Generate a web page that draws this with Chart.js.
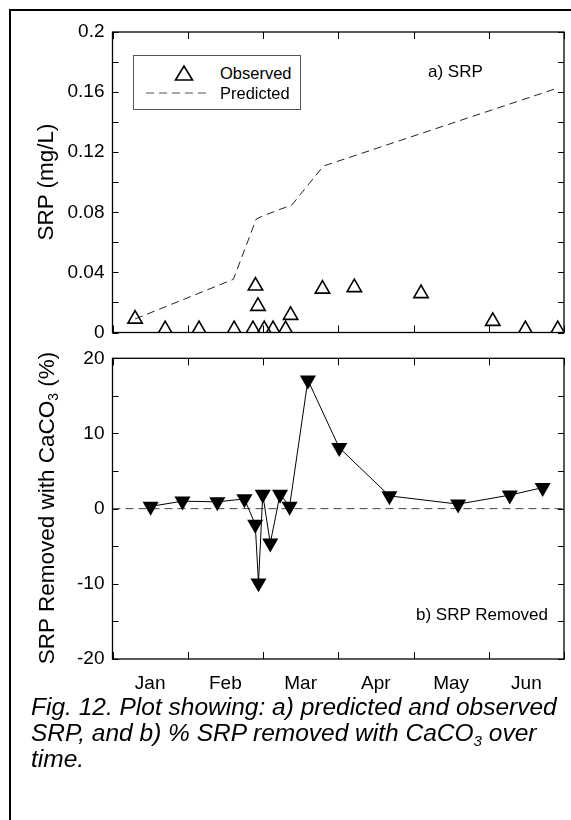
<!DOCTYPE html>
<html>
<head>
<meta charset="utf-8">
<script src="https://cdn.jsdelivr.net/npm/chart.js@4.4.1/dist/chart.umd.min.js"></script>
<style>
  html, body { margin: 0; padding: 0; background: #fff; }
  body { width: 571px; height: 820px; position: relative; overflow: hidden;
         font-family: "Liberation Sans", Arial, Helvetica, sans-serif; color: #000; }
  #frame { position: absolute; left: 9px; top: 9px; width: 700px; height: 900px;
           border-left: 2px solid #000; border-top: 2px solid #000; }
  canvas { position: absolute; left: 0; }
  #topChart { top: 0; }
  #botChart { top: 338px; }
  .ytitle { position: absolute; transform: translate(-50%, -50%) rotate(-90deg);
            white-space: nowrap; font-size: 22.5px; line-height: 1; }
  sub { font-size: 62%; vertical-align: baseline; position: relative; top: 0.3em; line-height: 0; }
  .note { position: absolute; white-space: nowrap; font-size: 17px; line-height: 20px; }
  #legend { position: absolute; left: 133px; top: 55px; width: 166px; height: 53px;
            border: 1px solid #555; background: #fff; }
  #legend svg { position: absolute; left: 0; top: 0; }
  #legend .lab { position: absolute; left: 86px; font-size: 16.5px; line-height: 20px; }
  #caption { position: absolute; left: 31px; top: 694px; font-size: 24.5px; line-height: 26px;
             font-style: italic; white-space: nowrap; }
</style>
</head>
<body>
<div id="frame"></div>
<canvas id="topChart" width="571" height="352"></canvas>
<canvas id="botChart" width="577" height="370"></canvas>

<div class="ytitle" style="left:46px; top:182px;">SRP (mg/L)</div>
<div class="ytitle" style="left:47px; top:508px;">SRP Removed with CaCO<sub>3</sub> (%)</div>

<div id="legend">
  <svg width="166" height="53">
    <polygon points="50,10 41.5,24 58.5,24" fill="none" stroke="#000" stroke-width="1.6"/>
    <line x1="12" y1="37" x2="77" y2="37" stroke="#555" stroke-width="1" stroke-dasharray="8,5"/>
  </svg>
  <div class="lab" style="top:7px;">Observed</div>
  <div class="lab" style="top:27px;">Predicted</div>
</div>

<div class="note" style="left:428px; top:62px;">a) SRP</div>
<div class="note" style="right:23px; top:605px;">b) SRP Removed</div>

<div id="caption">Fig. 12. Plot showing: a) predicted and observed<br>SRP, and b) % SRP removed with CaCO<sub>3</sub> over<br>time.</div>

<script>
// Time axis: days from 1 Jan, six 30-day month bands
const monthNames = ['Jan', 'Feb', 'Mar', 'Apr', 'May', 'Jun'];
const monthEdges = [0, 30, 60, 90, 120, 150, 180];

// a) observed SRP (mg/L)
const obsDay = [9, 21, 34.5, 48.5, 56, 57, 58, 60.5, 64, 69, 71, 83.7, 96.4, 123, 151.6, 164.6, 177.5];
const obsSRP = [0.009, 0.002, 0.002, 0.002, 0.002, 0.031, 0.0175, 0.002, 0.002, 0.002, 0.0115, 0.029, 0.030, 0.026, 0.0075, 0.002, 0.002];

// a) predicted SRP (mg/L)
const predDay = [9, 48.2, 57.3, 60.2, 71.5, 84.1, 177.3];
const predSRP = [0.009, 0.0354, 0.0755, 0.0778, 0.0849, 0.1108, 0.1626];

// b) SRP removed with CaCO3 (%)
const remDay = [15.2, 27.9, 41.8, 52.6, 56.9, 58.2, 59.9, 62.9, 66.8, 70.6, 77.9, 90.4, 110.4, 137.8, 158.4, 171.5];
const remPct = [0.3, 1.0, 0.9, 1.3, -2.1, -9.9, 1.9, -4.6, 1.9, 0.3, 17.1, 8.1, 1.7, 0.6, 1.8, 2.8];

// y tick labels
const srpLabels = [0, 0.04, 0.08, 0.12, 0.16, 0.2];
const pctLabels = [-20, -10, 0, 10, 20];

const pts = (xs, ys) => xs.map((x, i) => ({ x, y: ys[i] }));
const FONT = '"Liberation Sans", Arial, Helvetica, sans-serif';

// Closed frame with inward-pointing ticks on all four sides
const frameTicks = {
  id: 'frameTicks',
  afterDraw(chart) {
    const { ctx, chartArea: a, scales: { x, y } } = chart;
    const len = 6;
    ctx.save();
    ctx.strokeStyle = '#000';
    ctx.lineWidth = 1;
    ctx.beginPath();
    y.ticks.forEach(t => {
      const py = Math.round(y.getPixelForValue(t.value)) + 0.5;
      ctx.moveTo(a.left, py); ctx.lineTo(a.left + len, py);
      ctx.moveTo(a.right, py); ctx.lineTo(a.right - len, py);
    });
    monthEdges.forEach(v => {
      const px = Math.round(x.getPixelForValue(v)) + 0.5;
      ctx.moveTo(px, a.top); ctx.lineTo(px, a.top + len + 1);
      ctx.moveTo(px, a.bottom); ctx.lineTo(px, a.bottom - len - 1);
    });
    ctx.stroke();
    ctx.lineWidth = 1.3;
    ctx.strokeRect(a.left, a.top, a.right - a.left, a.bottom - a.top);
    ctx.restore();
  }
};

function xScale(showLabels, height) {
  return {
    type: 'linear', min: 0, max: 180,
    grid: { display: false, drawTicks: false },
    border: { display: false },
    ticks: {
      display: showLabels, stepSize: 15, autoSkip: false, maxRotation: 0, padding: 13,
      color: '#000', font: { family: FONT, size: 19 },
      callback: v => (v % 30 === 15 ? monthNames[(v - 15) / 30] : '')
    },
    afterFit: s => { s.height = height; }
  };
}

function yScale(min, max, step, labels, fmt) {
  return {
    type: 'linear', min, max,
    grid: { display: false, drawTicks: false },
    border: { display: false },
    ticks: {
      stepSize: step, autoSkip: false, padding: 8, color: '#000',
      font: { family: FONT, size: 19 },
      callback: v => {
        const hit = labels.find(l => Math.abs(l - v) < 1e-9);
        return hit === undefined ? '' : fmt(hit);
      }
    },
    afterFit: s => { s.width = 82; }
  };
}

const common = {
  responsive: false,
  animation: false,
  devicePixelRatio: 1,
  plugins: { legend: { display: false }, tooltip: { enabled: false } }
};

new Chart(document.getElementById('topChart'), {
  type: 'scatter',
  data: {
    datasets: [
      {
        label: 'Observed',
        data: pts(obsDay, obsSRP),
        showLine: false,
        pointStyle: 'triangle',
        pointRadius: 8.3,
        borderWidth: 1.6,
        borderColor: '#000',
        backgroundColor: 'rgba(0,0,0,0)'
      },
      {
        label: 'Predicted',
        data: pts(predDay, predSRP),
        showLine: true,
        pointRadius: 0,
        borderColor: '#222',
        borderWidth: 1,
        borderDash: [8, 5],
        tension: 0
      }
    ]
  },
  options: {
    ...common,
    layout: { autoPadding: false, padding: { left: 30.5, right: 7, top: 32, bottom: 0 } },
    scales: {
      x: xScale(false, 19.5),
      y: yScale(0, 0.2, 0.02, srpLabels, v => String(+v.toFixed(2)))
    }
  },
  plugins: [frameTicks]
});

new Chart(document.getElementById('botChart'), {
  type: 'scatter',
  data: {
    datasets: [
      {
        label: 'SRP removed',
        data: pts(remDay, remPct),
        showLine: true,
        borderColor: '#000',
        borderWidth: 1,
        pointStyle: 'triangle',
        rotation: 180,
        pointRadius: 9.3,
        pointBorderWidth: 0,
        pointBackgroundColor: '#000',
        tension: 0
      },
      {
        label: 'zero',
        data: [{ x: 0, y: 0 }, { x: 180, y: 0 }],
        showLine: true,
        pointRadius: 0,
        borderColor: '#444',
        borderWidth: 1,
        borderDash: [8, 5]
      }
    ]
  },
  options: {
    ...common,
    layout: { autoPadding: false, padding: { left: 30.5, right: 7, top: 20.3, bottom: 0 } },
    scales: {
      x: xScale(true, 49),
      y: yScale(-20, 20, 5, pctLabels, v => String(v))
    }
  },
  plugins: [frameTicks]
});
</script>
</body>
</html>
